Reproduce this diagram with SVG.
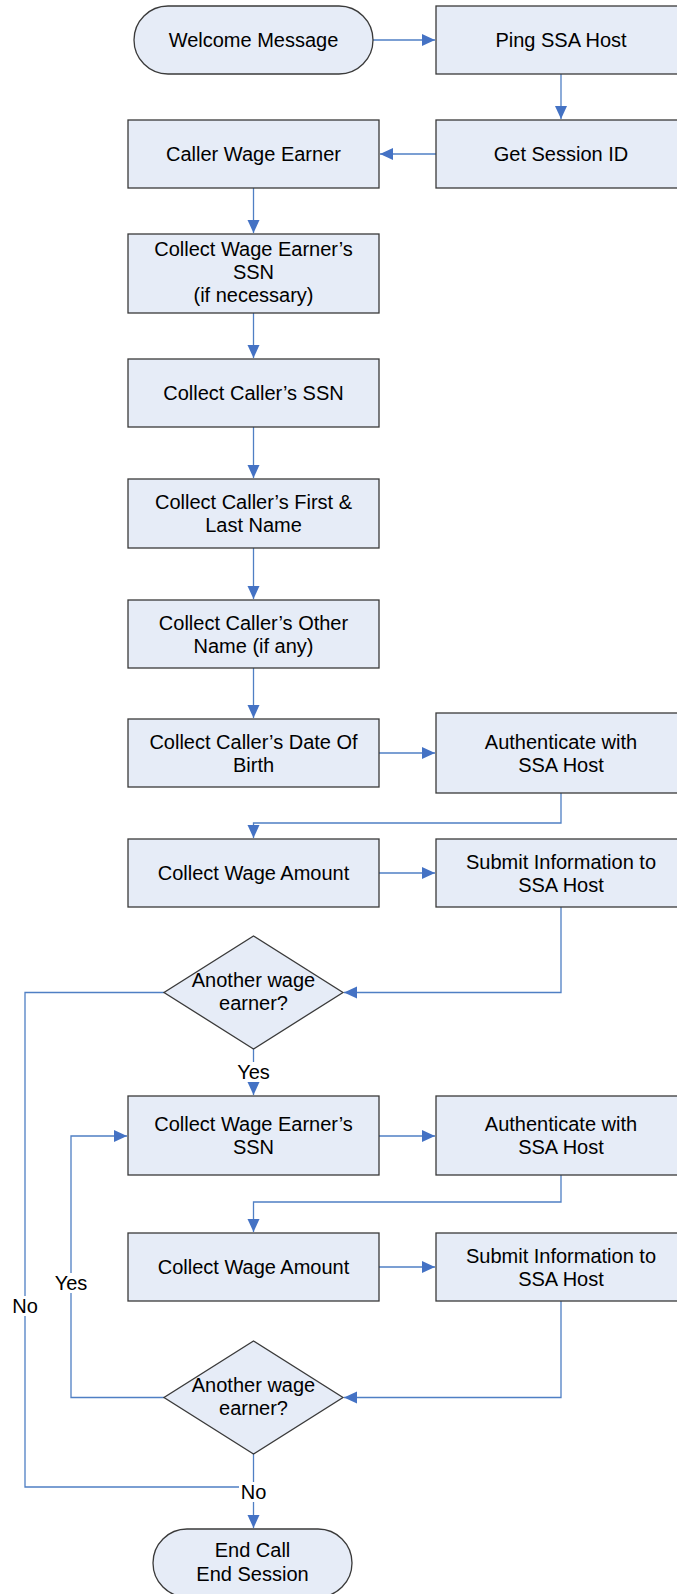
<svg xmlns="http://www.w3.org/2000/svg" width="677" height="1594" viewBox="0 0 677 1594">
<style>
.box{fill:#E6ECF7;stroke:#3a3a3a;stroke-width:1.3}
.t{font-family:"Liberation Sans",Arial,sans-serif;font-size:20px;fill:#000;text-anchor:middle}
.c{fill:none;stroke:#4F7FC4;stroke-width:1.3}
.bg{fill:#fff}
</style>
<defs>
<marker id="ah" markerUnits="userSpaceOnUse" markerWidth="14" markerHeight="14" viewBox="0 0 14 14" refX="13" refY="7" orient="auto">
<path d="M0,1 L13,7 L0,13 Z" fill="#4472C4"/>
</marker>
</defs>
<rect width="677" height="1594" fill="#fff"/>
<g id="connectors">
<path class="c" d="M373,40 H435" marker-end="url(#ah)"/>
<path class="c" d="M561,74 V119" marker-end="url(#ah)"/>
<path class="c" d="M436,154 H380" marker-end="url(#ah)"/>
<path class="c" d="M253.5,188 V233" marker-end="url(#ah)"/>
<path class="c" d="M253.5,313 V358" marker-end="url(#ah)"/>
<path class="c" d="M253.5,427 V478" marker-end="url(#ah)"/>
<path class="c" d="M253.5,548 V599" marker-end="url(#ah)"/>
<path class="c" d="M253.5,668 V718" marker-end="url(#ah)"/>
<path class="c" d="M379,753 H435" marker-end="url(#ah)"/>
<path class="c" d="M561,793 V823 H253.5 V838" marker-end="url(#ah)"/>
<path class="c" d="M379,873 H435" marker-end="url(#ah)"/>
<path class="c" d="M561,907 V992.5 H344" marker-end="url(#ah)"/>
<path class="c" d="M253.5,1049 V1095" marker-end="url(#ah)"/>
<path class="c" d="M164,992.5 H25 V1487 H253.5"/>
<path class="c" d="M379,1136 H435" marker-end="url(#ah)"/>
<path class="c" d="M561,1175 V1202 H253.5 V1232" marker-end="url(#ah)"/>
<path class="c" d="M379,1267 H435" marker-end="url(#ah)"/>
<path class="c" d="M561,1301 V1397.5 H344" marker-end="url(#ah)"/>
<path class="c" d="M164,1397.5 H71 V1136 H127" marker-end="url(#ah)"/>
<path class="c" d="M253.5,1454 V1528" marker-end="url(#ah)"/>
<rect class="bg" x="234" y="1062" width="39" height="20"/>
<text class="t" x="253.5" y="1079">Yes</text>
<rect class="bg" x="52" y="1273" width="39" height="20"/>
<text class="t" x="71" y="1290">Yes</text>
<rect class="bg" x="11" y="1296" width="28" height="20"/>
<text class="t" x="25" y="1313">No</text>
<rect class="bg" x="239" y="1482" width="29" height="20"/>
<text class="t" x="253.5" y="1499">No</text>
</g>
<g id="welcome"><rect class="box" x="134" y="6" width="239" height="68" rx="34"/><text class="t" x="253.5" y="47">Welcome Message</text></g>
<g id="ping"><rect class="box" x="436" y="6" width="251" height="68"/><text class="t" x="561" y="47">Ping SSA Host</text></g>
<g id="session"><rect class="box" x="436" y="120" width="251" height="68"/><text class="t" x="561" y="161">Get Session ID</text></g>
<g id="caller"><rect class="box" x="128" y="120" width="251" height="68"/><text class="t" x="253.5" y="161">Caller Wage Earner</text></g>
<g id="wessn1"><rect class="box" x="128" y="234" width="251" height="79"/><text class="t" x="253.5" y="256">Collect Wage Earner’s</text><text class="t" x="253.5" y="279">SSN</text><text class="t" x="253.5" y="302">(if necessary)</text></g>
<g id="callerssn"><rect class="box" x="128" y="359" width="251" height="68"/><text class="t" x="253.5" y="400">Collect Caller’s SSN</text></g>
<g id="name"><rect class="box" x="128" y="479" width="251" height="69"/><text class="t" x="253.5" y="509">Collect Caller’s First &amp;</text><text class="t" x="253.5" y="532">Last Name</text></g>
<g id="othername"><rect class="box" x="128" y="600" width="251" height="68"/><text class="t" x="253.5" y="630">Collect Caller’s Other</text><text class="t" x="253.5" y="653">Name (if any)</text></g>
<g id="dob"><rect class="box" x="128" y="719" width="251" height="68"/><text class="t" x="253.5" y="749">Collect Caller’s Date Of</text><text class="t" x="253.5" y="772">Birth</text></g>
<g id="auth1"><rect class="box" x="436" y="713" width="251" height="80"/><text class="t" x="561" y="749">Authenticate with</text><text class="t" x="561" y="772">SSA Host</text></g>
<g id="wage1"><rect class="box" x="128" y="839" width="251" height="68"/><text class="t" x="253.5" y="880">Collect Wage Amount</text></g>
<g id="submit1"><rect class="box" x="436" y="839" width="251" height="68"/><text class="t" x="561" y="869">Submit Information to</text><text class="t" x="561" y="892">SSA Host</text></g>
<g id="decision1"><path class="box" d="M253.5,936 L343,992.5 L253.5,1049 L164,992.5 Z"/><text class="t" x="253.5" y="987">Another wage</text><text class="t" x="253.5" y="1010">earner?</text></g>
<g id="wessn2"><rect class="box" x="128" y="1096" width="251" height="79"/><text class="t" x="253.5" y="1131">Collect Wage Earner’s</text><text class="t" x="253.5" y="1154">SSN</text></g>
<g id="auth2"><rect class="box" x="436" y="1096" width="251" height="79"/><text class="t" x="561" y="1131">Authenticate with</text><text class="t" x="561" y="1154">SSA Host</text></g>
<g id="wage2"><rect class="box" x="128" y="1233" width="251" height="68"/><text class="t" x="253.5" y="1274">Collect Wage Amount</text></g>
<g id="submit2"><rect class="box" x="436" y="1233" width="251" height="68"/><text class="t" x="561" y="1263">Submit Information to</text><text class="t" x="561" y="1286">SSA Host</text></g>
<g id="decision2"><path class="box" d="M253.5,1341 L343,1397.5 L253.5,1454 L164,1397.5 Z"/><text class="t" x="253.5" y="1392">Another wage</text><text class="t" x="253.5" y="1415">earner?</text></g>
<g id="end"><rect class="box" x="153" y="1529" width="199" height="68" rx="34"/><text class="t" x="252.5" y="1557">End Call</text><text class="t" x="252.5" y="1581">End Session</text></g>
</svg>
